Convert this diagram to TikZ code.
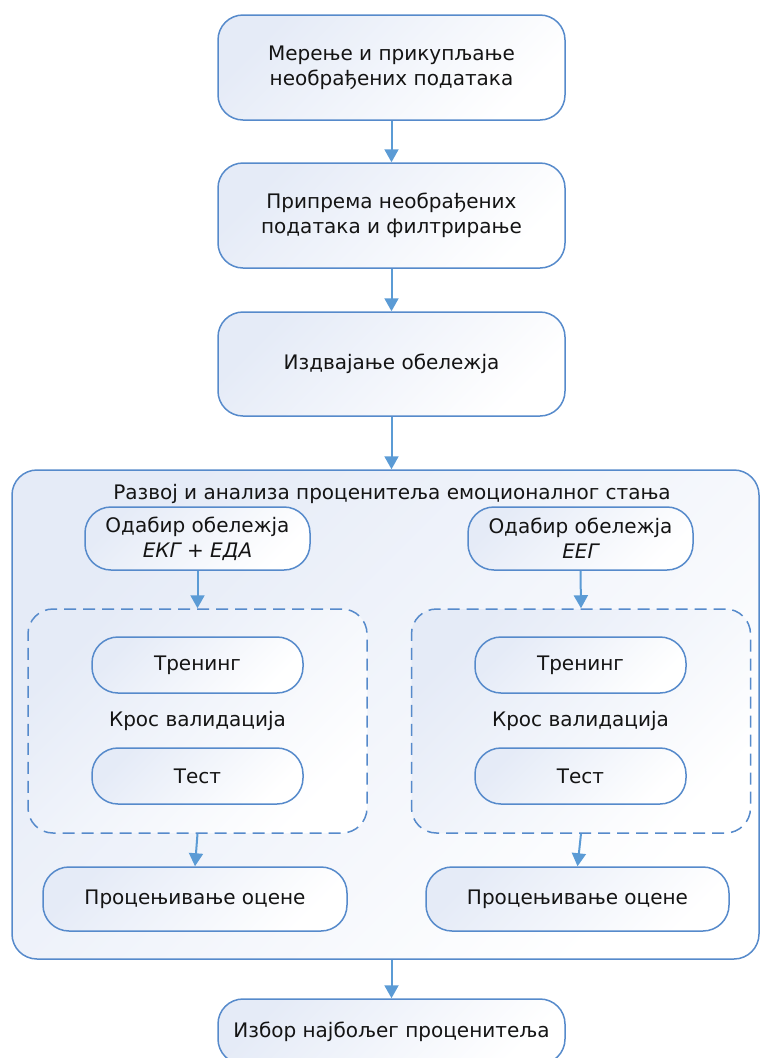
\documentclass[tikz,border=0pt]{standalone}
\usepackage{fontspec}
\setmainfont{DejaVu Sans}
\usetikzlibrary{arrows.meta}
\definecolor{edge}{RGB}{86,138,203}
\definecolor{arrowc}{RGB}{91,155,213}
\definecolor{tint}{RGB}{229,235,247}
\definecolor{tintmid}{RGB}{249,250,253}
\definecolor{ink}{RGB}{20,20,20}
\tikzset{
  x=1pt, y=-1pt,
  every node/.style={font=\fontsize{20}{25}\selectfont, text=ink, align=center, inner sep=0pt},
  shadefill/.style={top color=tint, middle color=tintmid, bottom color=white, shading angle=45},
  bigbox/.style={draw=edge, line width=1.5pt, rounded corners=25pt, shadefill},
  pill/.style={draw=edge, line width=1.5pt, rounded corners=26pt, shadefill},
  groupbox/.style={draw=edge, line width=1.5pt, rounded corners=25pt, dash pattern=on 12pt off 7pt, shadefill},
  flow/.style={draw=arrowc, line width=2pt, -{Triangle[width=14pt,length=13pt]}},
}
\begin{document}
\begin{tikzpicture}
\useasboundingbox (0,0) rectangle (760,1058);
\clip (0,0) rectangle (760,1058);

% main pipeline
\node[bigbox, minimum width=347pt, minimum height=105pt] (n1) at (391.5,67.5)
  {Мерење и прикупљање\\необрађених података};
\node[bigbox, minimum width=347pt, minimum height=105pt] (n2) at (391.5,215.5)
  {Припрема необрађених\\података и филтрирање};
\node[bigbox, minimum width=347pt, minimum height=104pt] (n3) at (391.5,364)
  {Издвајање обележја};

% estimator development container
\node[bigbox, minimum width=747pt, minimum height=489pt] (dev) at (385.5,714.5) {};
\node (devtitle) at (392,494) {Развој и анализа проценитеља емоционалног стања};

% left branch: ECG + EDA
\node[pill, minimum width=225pt, minimum height=63pt] (selL) at (197.5,538.5)
  {Одабир обележја\\\itshape ЕКГ + ЕДА};
\node[groupbox, minimum width=339pt, minimum height=224pt] (cvL) at (197.5,721) {};
\node[pill, minimum width=211pt, minimum height=56pt] (trL) at (197.5,665) {Тренинг};
\node (cvLlabel) at (197.5,721) {Крос валидација};
\node[pill, minimum width=211pt, minimum height=56pt] (teL) at (197.5,776) {Тест};
\node[pill, minimum width=304pt, minimum height=64pt] (evL) at (195,899) {Процењивање оцене};

% right branch: EEG
\node[pill, minimum width=225pt, minimum height=63pt] (selR) at (580.5,538.5)
  {Одабир обележја\\\itshape ЕЕГ};
\node[groupbox, minimum width=339pt, minimum height=224pt] (cvR) at (581,721) {};
\node[pill, minimum width=211pt, minimum height=56pt] (trR) at (580.5,665) {Тренинг};
\node (cvRlabel) at (580.5,721) {Крос валидација};
\node[pill, minimum width=211pt, minimum height=56pt] (teR) at (580.5,776) {Тест};
\node[pill, minimum width=303pt, minimum height=64pt] (evR) at (577.5,899) {Процењивање оцене};

% final selection
\node[bigbox, minimum width=347pt, minimum height=65pt] (best) at (391.5,1031.5)
  {Избор најбољег проценитеља};

% connectors
\draw[flow] (n1.south) -- (n2.north);
\draw[flow] (n2.south) -- (n3.north);
\draw[flow] (n3.south) -- (n3.south |- dev.north);
\draw[flow] (selL.south) -- (cvL.north);
\draw[flow] (selR.south) -- (cvR.north);
\draw[flow] (cvL.south) -- (evL.north);
\draw[flow] (cvR.south) -- (evR.north);
\draw[flow] (best.north |- dev.south) -- (best.north);
\end{tikzpicture}
\end{document}
